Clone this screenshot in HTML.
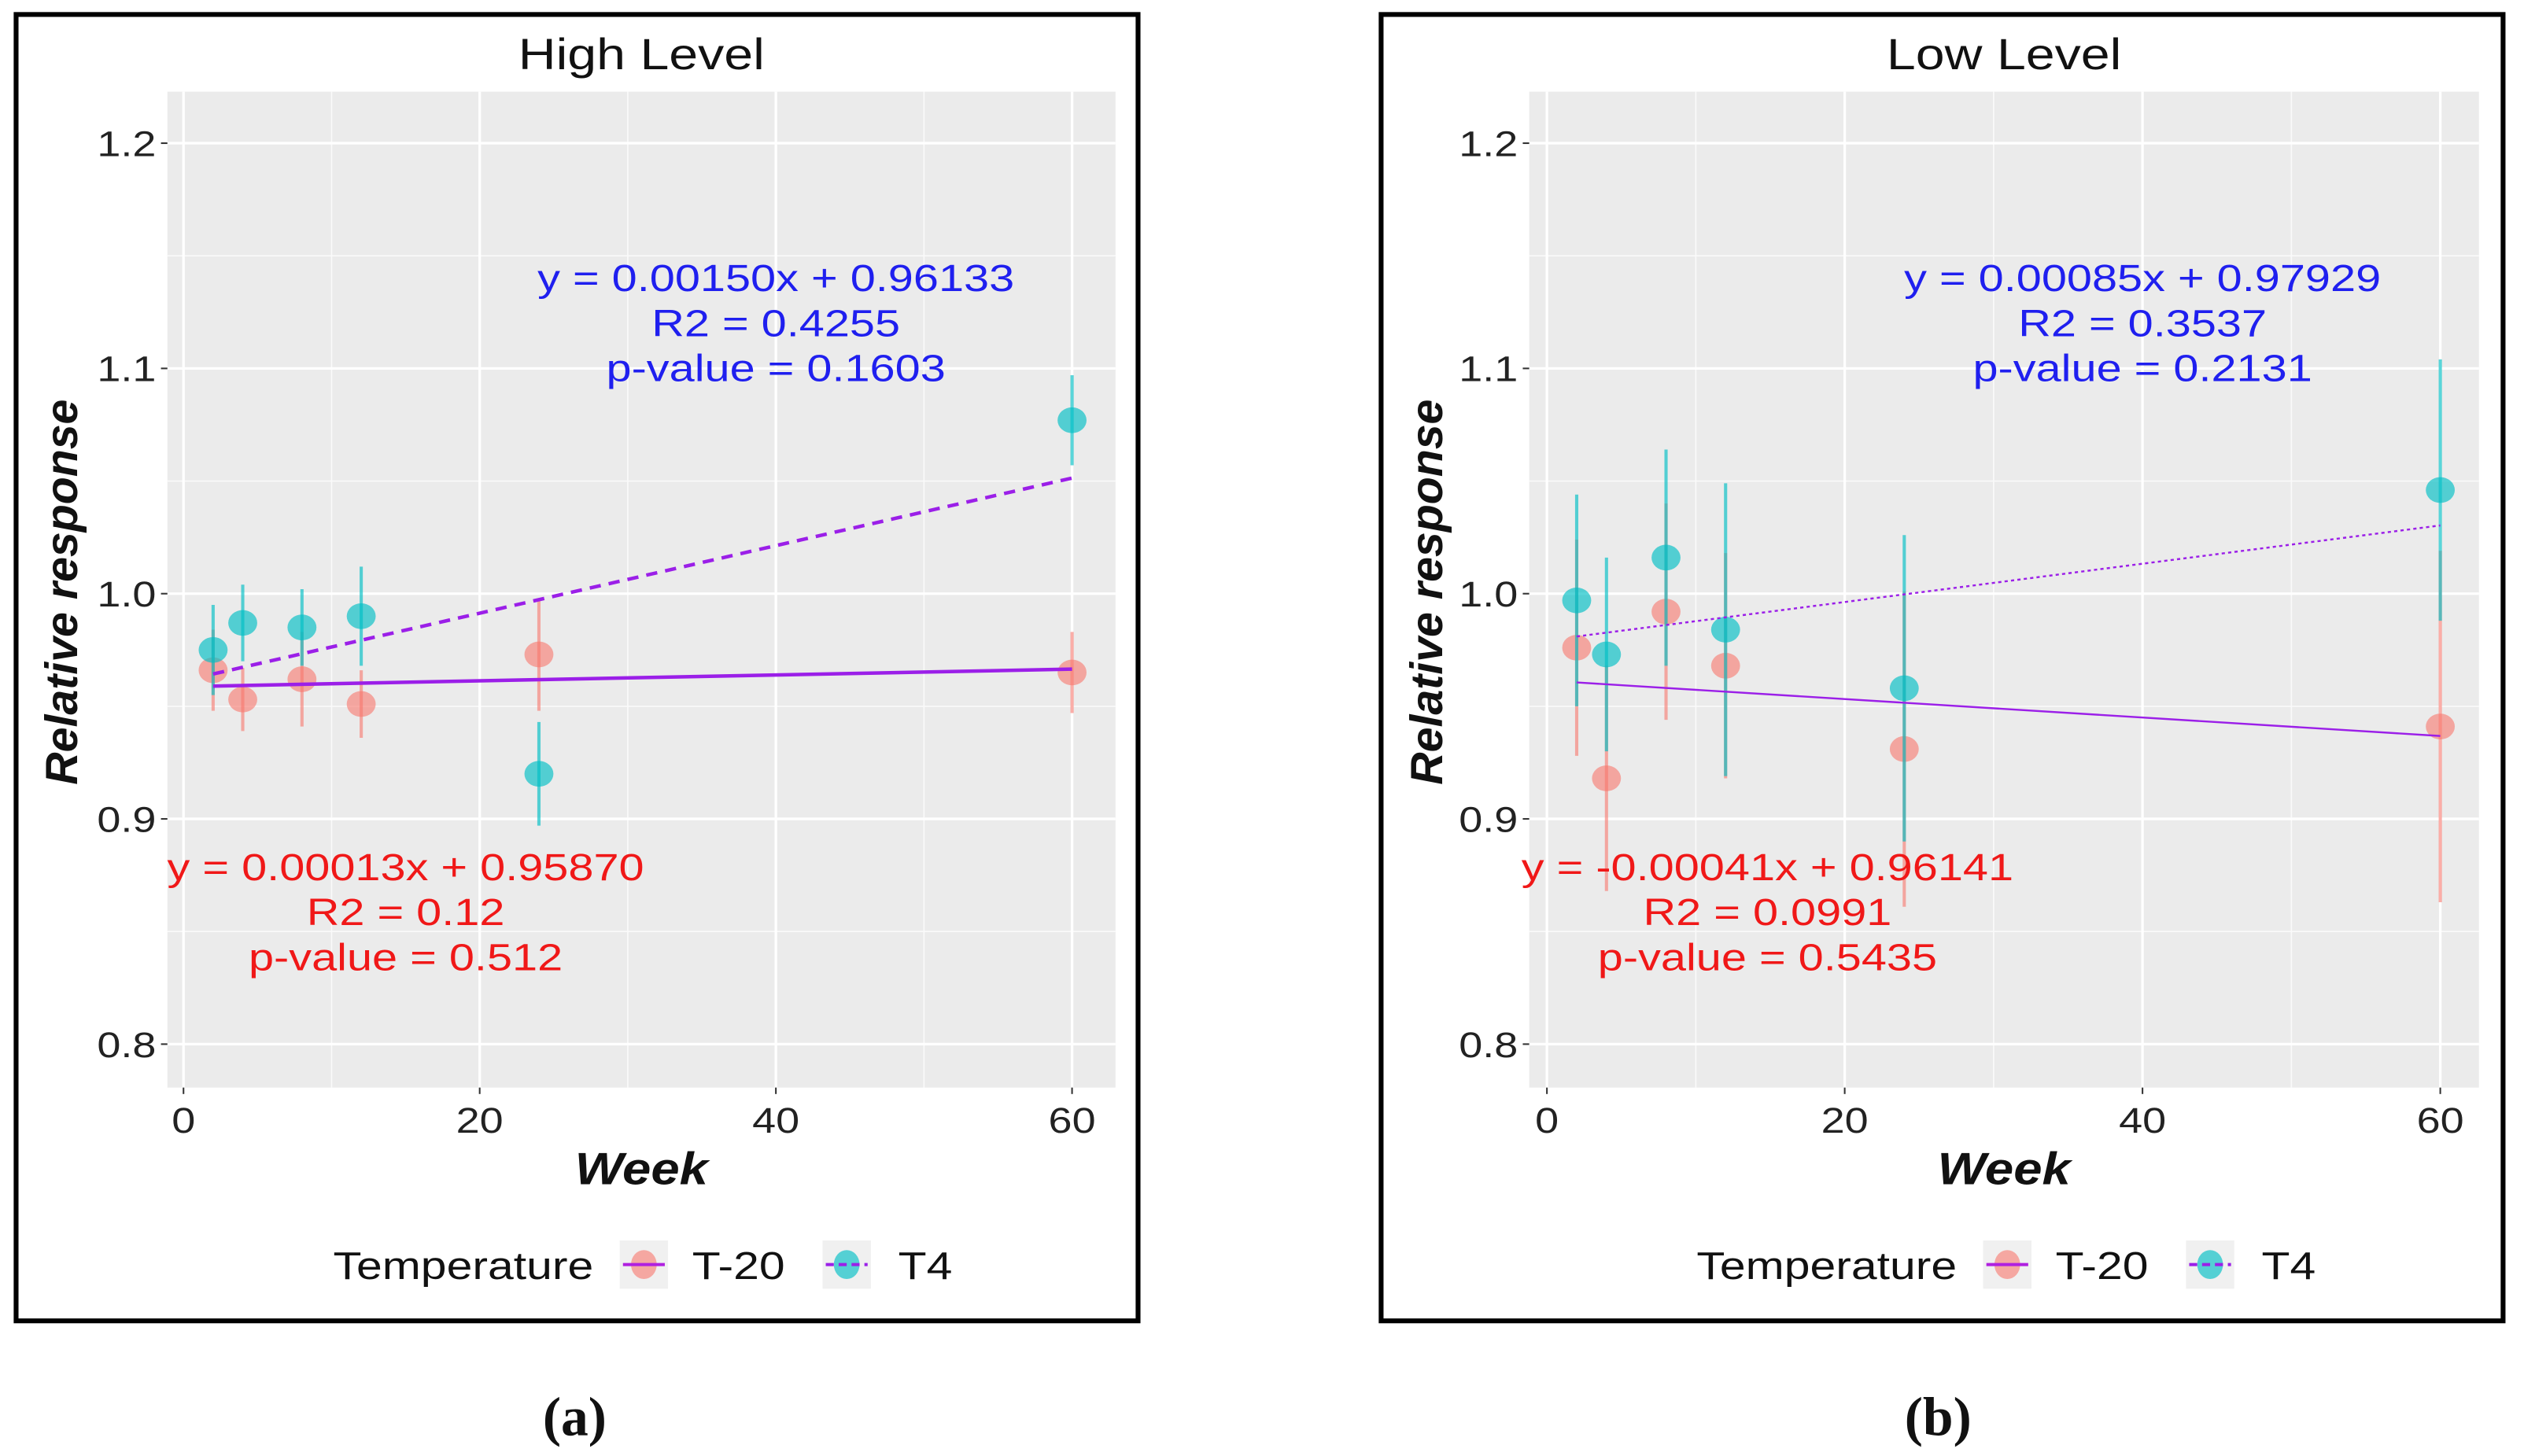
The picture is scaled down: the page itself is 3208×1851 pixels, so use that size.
<!DOCTYPE html>
<html><head><meta charset="utf-8"><style>
html,body{margin:0;padding:0;background:#fff;}
svg{display:block;}
text{font-family:"Liberation Sans",sans-serif;}
</style></head><body>
<svg id="fig" width="3208" height="1851" viewBox="0 0 1568 905" preserveAspectRatio="none" xmlns="http://www.w3.org/2000/svg"></svg>
<script>
const weeks = [2, 4, 8, 12, 24, 60];
const xTicks = [0, 20, 40, 60];
const yTicks = [0.8, 0.9, 1.0, 1.1, 1.2];
const yTickLabels = ["0.8", "0.9", "1.0", "1.1", "1.2"];
// Panel a (High Level)
const highT20 = [0.966, 0.953, 0.962, 0.951, 0.973, 0.965];
const highT20Err = [0.018, 0.014, 0.021, 0.015, 0.025, 0.018];
const highT4 = [0.975, 0.987, 0.985, 0.990, 0.920, 1.077];
const highT4Err = [0.020, 0.017, 0.017, 0.022, 0.023, 0.020];
const highFitT20 = [0.95870, 0.00013];
const highFitT4 = [0.96133, 0.00150];
const highT4Text = ["y = 0.00150x + 0.96133", "R2 = 0.4255", "p-value = 0.1603"];
const highT20Text = ["y = 0.00013x + 0.95870", "R2 = 0.12", "p-value = 0.512"];
// Panel b (Low Level)
const lowT20 = [0.976, 0.918, 0.992, 0.968, 0.931, 0.941];
const lowT20Err = [0.048, 0.050, 0.048, 0.050, 0.070, 0.078];
const lowT4 = [0.997, 0.973, 1.016, 0.984, 0.958, 1.046];
const lowT4Err = [0.047, 0.043, 0.048, 0.065, 0.068, 0.058];
const lowFitT20 = [0.96141, -0.00041];
const lowFitT4 = [0.97929, 0.00085];
const lowT4Text = ["y = 0.00085x + 0.97929", "R2 = 0.3537", "p-value = 0.2131"];
const lowT20Text = ["y = -0.00041x + 0.96141", "R2 = 0.0991", "p-value = 0.5435"];

const NS = "http://www.w3.org/2000/svg";
const svg = document.getElementById('fig');
function mk(tag, attrs, parent, txt){
  const e = document.createElementNS(NS, tag);
  for (const k in attrs) e.setAttribute(k, attrs[k]);
  if (txt !== undefined) e.textContent = txt;
  (parent || svg).appendChild(e);
  return e;
}
function stext(x, y, sx, attrs, parent, txt){
  const a = Object.assign({x: 0, y: 0, transform: `translate(${x},${y}) scale(${sx},1)`}, attrs);
  return mk('text', a, parent, txt);
}

function panel(cfg){
  const g = mk('g', {});
  
  
  const x0 = cfg.x0, xs = cfg.xs;
  const X = v => x0 + v * xs;
  const Y = v => 369 - (v - 1.0) * 1400;
  const L = cfg.left, R = cfg.right, T = 57, B = 676;
  const br = mk('rect', {x: cfg.bx, y: 9, width: 697, height: 812, fill: 'none', stroke: '#000', 'stroke-width': 3}, g);
  
  
  const t = stext((L + R) / 2, 43, 1.2, {'font-size': 27, 'text-anchor': 'middle', fill: '#111'}, g, cfg.title);
  
  
  const bg = mk('rect', {x: L, y: T, width: R - L, height: B - T, fill: '#ebebeb'}, g);
  
  
  [10, 30, 50].forEach(v => mk('line', {x1: X(v), x2: X(v), y1: T, y2: B, stroke: '#fafafa', 'stroke-width': 0.8}, g));
  [0.85, 0.95, 1.05, 1.15].forEach(v => mk('line', {x1: L, x2: R, y1: Y(v), y2: Y(v), stroke: '#fafafa', 'stroke-width': 0.8}, g));
  xTicks.forEach(v => {
    mk('line', {x1: X(v), x2: X(v), y1: T, y2: B, stroke: '#fff', 'stroke-width': 1.6}, g);
    mk('line', {x1: X(v), x2: X(v), y1: B, y2: B + 4, stroke: '#333', 'stroke-width': 1}, g);
    const tl = stext(X(v), B + 28, 1.2, {'font-size': 22, 'text-anchor': 'middle', fill: '#222'}, g, String(v));
    
    
  });
  yTicks.forEach((v, i) => {
    mk('line', {x1: L, x2: R, y1: Y(v), y2: Y(v), stroke: '#fff', 'stroke-width': 1.6}, g);
    mk('line', {x1: L - 4, x2: L, y1: Y(v), y2: Y(v), stroke: '#333', 'stroke-width': 1}, g);
    const tl = stext(L - 7, Y(v) + 8, 1.2, {'font-size': 22, 'text-anchor': 'end', fill: '#222'}, g, yTickLabels[i]);
    
    
  });
  const xt = stext((L + R) / 2, 736, 1.14, {'font-size': 28, 'font-weight': 'bold', 'font-style': 'italic', 'text-anchor': 'middle', fill: '#111'}, g, 'Week');
  
  
  const yt = mk('text', {x: 0, y: 0, 'font-size': 28, 'font-weight': 'bold', 'font-style': 'italic', 'text-anchor': 'middle', fill: '#111', transform: `translate(${cfg.bx + 38},368) rotate(-90)`}, g, 'Relative response');
  
  
  const cols = {t20: 'rgba(248,118,109,0.6)', t4: 'rgba(0,191,196,0.65)'};
  function series(vals, errs, col, nm){
    vals.forEach((v, i) => {
      const eb = mk('line', {x1: X(weeks[i]), x2: X(weeks[i]), y1: Y(v - errs[i]), y2: Y(v + errs[i]), stroke: col, 'stroke-width': 2}, g);
      
      
    });
    vals.forEach((v, i) => {
      const p = mk('ellipse', {cx: X(weeks[i]), cy: Y(v), rx: 9, ry: 8, fill: col}, g);
      
      
    });
  }
  series(cfg.t20, cfg.t20e, cols.t20, 't20');
  series(cfg.t4, cfg.t4e, cols.t4, 't4');
  const f1 = mk('line', {x1: X(2), x2: X(60), y1: Y(cfg.f20[0] + cfg.f20[1] * 2), y2: Y(cfg.f20[0] + cfg.f20[1] * 60), stroke: '#9b1fe8', 'stroke-width': cfg.lw}, g);
  
  
  const f2 = mk('line', {x1: X(2), x2: X(60), y1: Y(cfg.f4[0] + cfg.f4[1] * 2), y2: Y(cfg.f4[0] + cfg.f4[1] * 60), stroke: '#9b1fe8', 'stroke-width': cfg.lw, 'stroke-dasharray': cfg.dash}, g);
  
  
  [[cfg.t4txt, cfg.blueX, 181, '#1f1fef', 't4-equation'], [cfg.t20txt, cfg.redX, 547, '#f01818', 't20-equation']].forEach(a => {
    a[0].forEach((s, i) => {
      const e = stext(a[1], a[2] + i * 28, 1.2, {'font-size': 23.5, 'text-anchor': 'middle', fill: a[3]}, g, s);
      
      
    });
  });
  const lg = mk('g', {}, g);
  
  
  stext(cfg.legX, 795, 1.2, {'font-size': 24, fill: '#111'}, lg, 'Temperature');
  const k1 = cfg.legX + 178;
  mk('rect', {x: k1, y: 771, width: 30, height: 30, fill: '#f0f0f0'}, lg);
  mk('ellipse', {cx: k1 + 15, cy: 786, rx: 8, ry: 9, fill: cols.t20}, lg);
  mk('line', {x1: k1 + 2, x2: k1 + 28, y1: 786, y2: 786, stroke: '#b020e0', 'stroke-width': 2}, lg);
  const e1 = stext(k1 + 45, 795, 1.2, {'font-size': 24, fill: '#111'}, lg, 'T-20');
  
  
  const k2 = k1 + 126;
  mk('rect', {x: k2, y: 771, width: 30, height: 30, fill: '#f0f0f0'}, lg);
  mk('ellipse', {cx: k2 + 15, cy: 786, rx: 8, ry: 9, fill: cols.t4}, lg);
  mk('line', {x1: k2 + 2, x2: k2 + 28, y1: 786, y2: 786, stroke: '#9b1fe8', 'stroke-width': 2, 'stroke-dasharray': '5,3'}, lg);
  const e2 = stext(k2 + 47, 795, 1.2, {'font-size': 24, fill: '#111'}, lg, 'T4');
  
  
  const pl = mk('text', {x: cfg.labX, y: 892, 'font-size': 34, 'font-weight': 'bold', 'text-anchor': 'middle', fill: '#111', style: 'font-family:"Liberation Serif",serif'}, g, cfg.label);
  
  
}

panel({name: 'panel-high-level', title: 'High Level', bx: 10, left: 104, right: 693, x0: 114, xs: 9.2,
  t20: highT20, t20e: highT20Err, t4: highT4, t4e: highT4Err, f20: highFitT20, f4: highFitT4,
  t4txt: highT4Text, t20txt: highT20Text, blueX: 482, redX: 252, lw: 2.2, dash: '7,5', legX: 207, labX: 357, label: '(a)'});
panel({name: 'panel-low-level', title: 'Low Level', bx: 858, left: 950, right: 1540, x0: 961, xs: 9.25,
  t20: lowT20, t20e: lowT20Err, t4: lowT4, t4e: lowT4Err, f20: lowFitT20, f4: lowFitT4,
  t4txt: lowT4Text, t20txt: lowT20Text, blueX: 1331, redX: 1098, lw: 1.2, dash: '2,2', legX: 1054, labX: 1204, label: '(b)'});
</script>
</body></html>
